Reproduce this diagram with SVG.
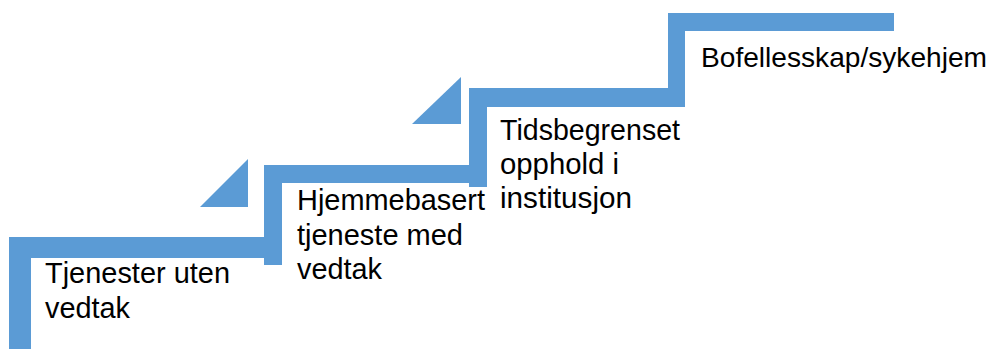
<svg xmlns="http://www.w3.org/2000/svg" width="998" height="349" viewBox="0 0 998 349">
  <style>
    .step { fill: #5B9BD5; }
    .label { font-family: "Liberation Sans", Arial, sans-serif; font-size: 30px; fill: #000000; }
    .label.wide { font-size: 28px; }
  </style>
  <rect width="998" height="349" fill="#ffffff"/>

  <!-- Staircase: each step is an L-shaped bar -->
  <g id="steps">
    <polygon class="step" points="9,349 9,237 272,237 272,258 31,258 31,349"/>
    <polygon class="step" points="264,265 264,165 476,165 476,183 282,183 282,265"/>
    <polygon class="step" points="469,187 469,88 676,88 676,107 487,107 487,187"/>
    <polygon class="step" points="668,107 668,13 894,13 894,31 685,31 685,107"/>
    <!-- Corner wedges -->
    <polygon class="step" points="200,207 248,159 248,207"/>
    <polygon class="step" points="412,124 461,77 461,124"/>
  </g>

  <g id="step1">
    <text class="label" x="45" y="283" textLength="185" lengthAdjust="spacingAndGlyphs">Tjenester uten</text>
    <text class="label" x="45" y="318" textLength="85" lengthAdjust="spacingAndGlyphs">vedtak</text>
  </g>
  <g id="step2">
    <text class="label" x="297" y="210" textLength="188" lengthAdjust="spacingAndGlyphs">Hjemmebasert</text>
    <text class="label" x="297" y="245" textLength="166" lengthAdjust="spacingAndGlyphs">tjeneste med</text>
    <text class="label" x="297" y="279" textLength="85" lengthAdjust="spacingAndGlyphs">vedtak</text>
  </g>
  <g id="step3">
    <text class="label" x="500" y="140" textLength="180" lengthAdjust="spacingAndGlyphs">Tidsbegrenset</text>
    <text class="label" x="500" y="174" textLength="119" lengthAdjust="spacingAndGlyphs">opphold i</text>
    <text class="label" x="500" y="208" textLength="132" lengthAdjust="spacingAndGlyphs">institusjon</text>
  </g>
  <g id="step4">
    <text class="label wide" x="701" y="67" textLength="286" lengthAdjust="spacingAndGlyphs">Bofellesskap/sykehjem</text>
  </g>
</svg>
